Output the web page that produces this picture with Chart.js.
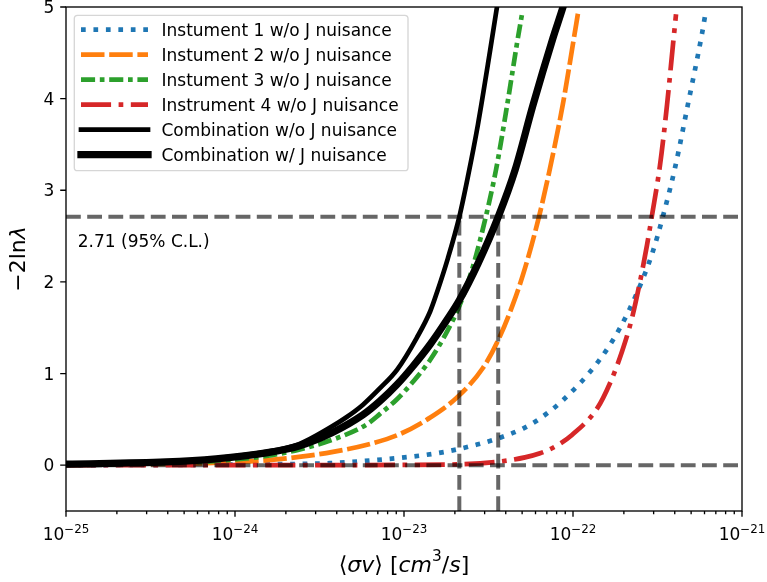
<!DOCTYPE html>
<html>
<head>
<meta charset="utf-8">
<title>-2 ln lambda vs sigma v</title>
<script src="https://cdn.jsdelivr.net/npm/chart.js@4.4.0/dist/chart.umd.min.js"></script>
<style>
  html, body { margin: 0; padding: 0; background: #fff; }
  #wrap { width: 767px; height: 582px; }
</style>
</head>
<body>
<div id="wrap"><canvas id="chart" width="767" height="582"></canvas></div>
<script>
// DATA (sigma v in cm^3/s, TS = -2 ln lambda)
const sigma1 = [1.0e-25, 6.2e-25, 1.53e-24, 3.65e-24, 5.72e-24, 1.13e-23, 1.80e-23, 2.70e-23, 3.70e-23, 5.06e-23, 6.38e-23, 8.73e-23, 1.41e-22, 1.90e-22, 2.39e-22, 2.93e-22, 3.41e-22, 4.02e-22, 4.79e-22, 5.80e-22, 6.04e-22];
const ts1 = [0.001, 0.004, 0.01, 0.022, 0.045, 0.095, 0.15, 0.225, 0.30, 0.40, 0.51, 0.71, 1.13, 1.50, 1.88, 2.30, 2.72, 3.25, 3.94, 4.71, 4.90];

const sigma2 = [1.0e-25, 3.14e-25, 6.21e-25, 9.73e-25, 1.53e-24, 2.39e-24, 3.80e-24, 5.96e-24, 9.47e-24, 1.43e-23, 2.06e-23, 2.93e-23, 3.60e-23, 4.42e-23, 5.20e-23, 6.29e-23, 7.31e-23, 8.73e-23, 1.0e-22, 1.07e-22];
const ts2 = [0.003, 0.01, 0.02, 0.033, 0.053, 0.09, 0.145, 0.22, 0.34, 0.52, 0.74, 1.06, 1.36, 1.76, 2.15, 2.71, 3.24, 3.95, 4.60, 4.93];

const sigma3 = [1.0e-25, 2.49e-25, 6.12e-25, 9.73e-25, 1.53e-24, 2.39e-24, 3.80e-24, 5.96e-24, 7.21e-24, 9.09e-24, 1.13e-23, 1.43e-23, 1.80e-23, 2.15e-23, 2.56e-23, 3.02e-23, 3.50e-23, 4.07e-23, 4.66e-23, 4.99e-23];
const ts3 = [0.005, 0.015, 0.035, 0.06, 0.10, 0.17, 0.28, 0.44, 0.56, 0.72, 0.91, 1.15, 1.46, 1.76, 2.17, 2.68, 3.22, 3.92, 4.60, 4.92];

const sigma4 = [1.0e-25, 2.42e-24, 9.47e-24, 2.15e-23, 3.70e-23, 5.20e-23, 6.38e-23, 7.61e-23, 9.86e-23, 1.39e-22, 1.66e-22, 1.95e-22, 2.23e-22, 2.49e-22, 2.74e-22, 2.93e-22, 3.27e-22, 3.60e-22, 3.91e-22, 4.07e-22];
const ts4 = [0, 0, 0.003, 0.01, 0.04, 0.085, 0.13, 0.19, 0.33, 0.62, 0.90, 1.24, 1.60, 2.00, 2.40, 2.72, 3.27, 3.93, 4.60, 4.92];

const sigmaComb = [1.0e-25, 3.91e-25, 7.72e-25, 1.53e-24, 2.39e-24, 3.65e-24, 4.54e-24, 5.72e-24, 7.21e-24, 9.09e-24, 1.19e-23, 1.43e-23, 1.57e-23, 1.82e-23, 2.125e-23, 2.39e-23, 2.74e-23, 3.23e-23, 3.55e-23, 3.85e-23];
const tsComb = [0.01, 0.035, 0.075, 0.145, 0.23, 0.41, 0.52, 0.66, 0.84, 1.04, 1.39, 1.68, 1.89, 2.26, 2.71, 3.15, 3.72, 4.52, 5.00, 5.40];

const sigmaCombJ = [1.0e-25, 3.91e-25, 7.72e-25, 1.53e-24, 2.39e-24, 3.80e-24, 5.72e-24, 7.21e-24, 9.09e-24, 1.13e-23, 1.43e-23, 1.80e-23, 2.125e-23, 2.74e-23, 3.61e-23, 4.54e-23, 5.80e-23, 7.61e-23, 8.73e-23, 9.86e-23];
const tsCombJ = [0.012, 0.035, 0.07, 0.135, 0.21, 0.36, 0.55, 0.70, 0.88, 1.08, 1.32, 1.59, 1.80, 2.20, 2.71, 3.22, 3.93, 4.66, 5.00, 5.33];

const labels = [
  "Instument 1 w/o J nuisance",
  "Instument 2 w/o J nuisance",
  "Instument 3 w/o J nuisance",
  "Instrument 4 w/o J nuisance",
  "Combination w/o J nuisance",
  "Combination w/ J nuisance"
];

// 95% C.L. level and the limits where the combinations cross it
const clLevel = 2.71;
const clText = "2.71 (95% C.L.)";
const limits = [2.125e-23, 3.61e-23];

// axes
const xRange = [1e-25, 1e-21];
const yRange = [-0.5, 5];
const xTickExps = [-25, -24, -23, -22, -21];
const yTicks = [0, 1, 2, 3, 4, 5];

const FONT = '"DejaVu Sans", sans-serif';
const LW = 4.7;

function pts(xs, ys) {
  return xs.map((x, i) => ({ x: x, y: ys[i] }));
}

// CURVES
const curves = [
  { label: labels[0], data: pts(sigma1, ts1), borderColor: "#1f77b4", borderWidth: LW, borderDash: [LW, 1.65 * LW] },
  { label: labels[1], data: pts(sigma2, ts2), borderColor: "#ff7f0e", borderWidth: LW, borderDash: [5 * LW, LW] },
  { label: labels[2], data: pts(sigma3, ts3), borderColor: "#2ca02c", borderWidth: LW, borderDash: [3 * LW, LW, LW, LW] },
  { label: labels[3], data: pts(sigma4, ts4), borderColor: "#d62728", borderWidth: LW, borderDash: [6.4 * LW, 1.6 * LW, LW, 1.6 * LW] },
  { label: labels[4], data: pts(sigmaComb, tsComb), borderColor: "#000", borderWidth: LW, borderDash: [] },
  { label: labels[5], data: pts(sigmaCombJ, tsCombJ), borderColor: "#000", borderWidth: 7.3, borderDash: [] }
];

// reference lines (grey dashed)
const refStyle = { borderColor: "rgba(0,0,0,0.6)", borderWidth: 4, borderDash: [14.8, 6.4], tension: 0, cubicInterpolationMode: "default" };
const refs = [
  Object.assign({ label: "", data: pts(xRange, [0, 0]) }, refStyle),
  Object.assign({ label: "", data: pts(xRange, [clLevel, clLevel]) }, refStyle),
  Object.assign({ label: "", data: pts([limits[0], limits[0]], [yRange[0], clLevel]) }, refStyle),
  Object.assign({ label: "", data: pts([limits[1], limits[1]], [yRange[0], clLevel]) }, refStyle)
];

const datasets = curves.concat(refs).map((d, i) => Object.assign({
  fill: false,
  pointRadius: 0,
  cubicInterpolationMode: "monotone",
  clip: 0,
  order: -i
}, d));

// text with italic / superscript runs, like matplotlib mathtext
function runsWidth(ctx, runs, size) {
  let total = 0;
  runs.forEach(r => {
    if (r.gap) { total += r.gap; return; }
    ctx.font = (r.it ? "italic " : "") + (r.sup ? size * 0.7 : size) + "px " + FONT;
    r.w = ctx.measureText(r.t).width;
    total += r.w;
  });
  return total;
}

function drawRuns(ctx, runs, x, y, size) {
  const total = runsWidth(ctx, runs, size);
  let cx = x - total / 2;
  ctx.textAlign = "left";
  ctx.textBaseline = "alphabetic";
  runs.forEach(r => {
    if (r.gap) { cx += r.gap; return; }
    ctx.font = (r.it ? "italic " : "") + (r.sup ? size * 0.7 : size) + "px " + FONT;
    ctx.fillText(r.t, cx, y - (r.sup ? r.rise : 0));
    cx += r.w;
  });
}

// AXES: frame, ticks, labels, titles, legend
const axesPlugin = {
  id: "mplAxes",
  afterDraw(chart) {
    const ctx = chart.ctx;
    const a = chart.chartArea;
    const xs = chart.scales.x, ys = chart.scales.y;
    ctx.save();
    ctx.strokeStyle = "#000";
    ctx.fillStyle = "#000";
    ctx.lineWidth = 1.33;
    ctx.setLineDash([]);
    ctx.strokeRect(a.left, a.top, a.right - a.left, a.bottom - a.top);

    // x ticks
    ctx.beginPath();
    xTickExps.forEach((e, k) => {
      const px = xs.getPixelForValue(Math.pow(10, e));
      ctx.moveTo(px, a.bottom);
      ctx.lineTo(px, a.bottom + 5.8);
      if (k < xTickExps.length - 1) {
        for (let m = 2; m <= 9; m++) {
          const mx = xs.getPixelForValue(m * Math.pow(10, e));
          ctx.moveTo(mx, a.bottom);
          ctx.lineTo(mx, a.bottom + 3.3);
        }
      }
    });
    // y ticks
    yTicks.forEach(v => {
      const py = ys.getPixelForValue(v);
      ctx.moveTo(a.left - 5.8, py);
      ctx.lineTo(a.left, py);
    });
    ctx.stroke();

    // tick labels
    ctx.font = "17px " + FONT;
    ctx.textAlign = "right";
    ctx.textBaseline = "alphabetic";
    yTicks.forEach(v => {
      ctx.fillText(String(v), a.left - 11.6, ys.getPixelForValue(v) + 6.1);
    });
    xTickExps.forEach(e => {
      const px = xs.getPixelForValue(Math.pow(10, e));
      drawRuns(ctx, [{ t: "10" }, { t: "\u2212" + Math.abs(e), sup: true, rise: 6.5 }], px, a.bottom + 28.5, 17);
    });

    // axis titles
    drawRuns(ctx, [
      { t: "\u27e8" }, { t: "\u03c3v", it: true }, { t: "\u27e9" }, { t: " " },
      { t: "[" }, { t: "cm", it: true }, { t: "3", sup: true, rise: 10.5 }, { t: "/" },
      { t: "s", it: true }, { t: "]" }
    ], (a.left + a.right) / 2, 571.5, 22);

    ctx.save();
    ctx.translate(24.5, (a.top + a.bottom) / 2);
    ctx.rotate(-Math.PI / 2);
    drawRuns(ctx, [{ t: "\u22122" }, { t: "ln" }, { t: "\u03bb", it: true }], 0, 0, 22);
    ctx.restore();

    // C.L. annotation
    ctx.font = "17px " + FONT;
    ctx.textAlign = "left";
    ctx.fillText(clText, 77.8, 247.3);

    // LEGEND
    const bx = 74.3, by = 15.3, bw = 333.7, bh = 155.4, r = 3.3;
    ctx.beginPath();
    ctx.moveTo(bx + r, by);
    ctx.arcTo(bx + bw, by, bx + bw, by + bh, r);
    ctx.arcTo(bx + bw, by + bh, bx, by + bh, r);
    ctx.arcTo(bx, by + bh, bx, by, r);
    ctx.arcTo(bx, by, bx + bw, by, r);
    ctx.closePath();
    ctx.fillStyle = "rgba(255,255,255,0.8)";
    ctx.fill();
    ctx.strokeStyle = "rgba(204,204,204,0.8)";
    ctx.lineWidth = 1.33;
    ctx.stroke();

    chart.data.datasets.filter(d => d.label).forEach((d, i) => {
      const cy = 29.7 + 25 * i;
      ctx.beginPath();
      ctx.strokeStyle = d.borderColor;
      ctx.lineWidth = d.borderWidth;
      ctx.setLineDash(d.borderDash);
      ctx.lineCap = d.borderDash.length ? "butt" : "square";
      ctx.moveTo(81, cy);
      ctx.lineTo(148, cy);
      ctx.stroke();
      ctx.setLineDash([]);
      ctx.fillStyle = "#000";
      ctx.font = "17px " + FONT;
      ctx.textAlign = "left";
      ctx.fillText(d.label, 161.5, cy + 6.1);
    });
    ctx.restore();
  }
};

new Chart(document.getElementById("chart"), {
  type: "line",
  data: { datasets: datasets },
  options: {
    responsive: false,
    devicePixelRatio: 1,
    animation: false,
    layout: { padding: { left: 66, right: 25, top: 7, bottom: 71 } },
    scales: {
      x: { type: "logarithmic", min: xRange[0], max: xRange[1], display: false },
      y: { type: "linear", min: yRange[0], max: yRange[1], display: false }
    },
    plugins: {
      legend: { display: false },
      tooltip: { enabled: false }
    }
  },
  plugins: [axesPlugin]
});
</script>
</body>
</html>
